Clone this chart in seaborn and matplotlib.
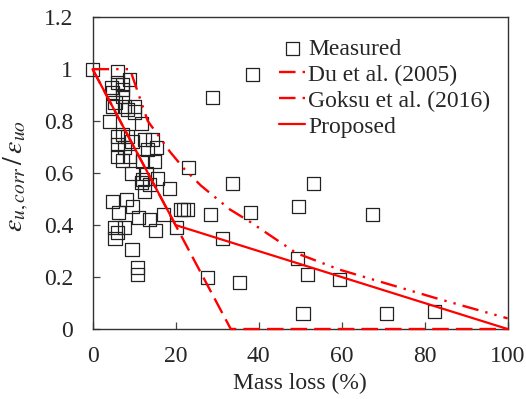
import matplotlib
matplotlib.use("Agg")
import matplotlib.pyplot as plt
import seaborn as sns
import numpy as np

# Measured data (mass loss %, strain ratio)
meas_x = [0, 6.1, 9.0, 5.9, 7.1, 4.6, 7.1, 4.9, 7.3, 5.4, 4.9, 7.8, 10.2, 8.5, 10.2,
          4.1, 11.9, 5.9, 7.3, 8.5, 9.5, 6.1, 7.8, 12.6, 14.5, 15.4, 13.3, 5.9, 9.0,
          12.1, 15.0, 9.5, 13.0, 12.1, 13.8, 11.8, 12.6, 18.6, 23.2, 15.7, 7.1,
          4.9, 8.2, 6.3, 9.7, 11.0, 13.8, 17.0, 15.2, 5.4, 7.8, 6.1, 5.4, 9.5, 10.9,
          10.9, 20.3, 21.2, 22.0, 22.8, 28.8, 38.5, 33.8, 53.3, 28.5, 38.0, 49.7,
          31.4, 49.4, 51.7, 27.6, 35.3, 50.7, 59.6, 67.5, 70.8, 82.5]
meas_y = [1.0, 0.99, 0.96, 0.95, 0.94, 0.93, 0.92, 0.91, 0.895, 0.87, 0.855, 0.855, 0.855,
          0.845, 0.835, 0.80, 0.79, 0.74, 0.75, 0.74, 0.72, 0.71, 0.70, 0.73, 0.73, 0.70,
          0.69, 0.665, 0.665, 0.645, 0.645, 0.60, 0.60, 0.575, 0.555, 0.565, 0.53, 0.54,
          0.62, 0.58, 0.65,
          0.49, 0.50, 0.45, 0.47, 0.43, 0.42, 0.44, 0.38, 0.39, 0.39, 0.37, 0.35, 0.305,
          0.235, 0.21, 0.39, 0.46, 0.46, 0.46, 0.89, 0.98, 0.56, 0.56, 0.44, 0.45, 0.47,
          0.35, 0.27, 0.21, 0.20, 0.18, 0.058, 0.19, 0.44, 0.058, 0.067]

# Model curves
du_x = [0, 33.3, 100]
du_y = [1.0, 0.0, 0.0]
goksu_x = [0, 9, 13.3, 16.2, 18.6, 22.2, 26.1, 33.1, 37.8, 49.1, 59.6, 82.9, 100]
goksu_y = [1.0, 1.0, 0.80, 0.737, 0.683, 0.614, 0.552, 0.46, 0.414, 0.292, 0.228, 0.118, 0.041]
prop_x = [0, 20, 100]
prop_y = [1.0, 0.4, 0.0]

x_ticks = [0, 20, 40, 60, 80, 100]
y_ticks = [0, 0.2, 0.4, 0.6, 0.8, 1.0, 1.2]
y_ticklabels = ["0", "0.2", "0.4", "0.6", "0.8", "1", "1.2"]

sns.set_style("white")
plt.rcParams["font.family"] = ["Liberation Serif", "DejaVu Serif"]
plt.rcParams["mathtext.fontset"] = "stix"

fig = plt.figure(figsize=(5.26, 3.99), dpi=100)
ax = fig.add_axes([0.176, 0.1754, 0.789, 0.7816])

sns.scatterplot(x=meas_x, y=meas_y, ax=ax, marker="s", s=88, facecolor="none",
                edgecolor="#222222", linewidth=0.9, label="Measured", zorder=2, clip_on=False)
sns.lineplot(x=du_x, y=du_y, ax=ax, color="red", linewidth=1.7, sort=False, estimator=None,
             linestyle=(0, (7, 3)), label="Du et al. (2005)", zorder=3, clip_on=False)
sns.lineplot(x=goksu_x, y=goksu_y, ax=ax, color="red", linewidth=1.7, sort=False, estimator=None,
             linestyle=(0, (7, 3, 1, 3, 1, 3)), label="Goksu et al. (2016)", zorder=3, clip_on=False)
sns.lineplot(x=prop_x, y=prop_y, ax=ax, color="red", linewidth=1.6, sort=False, estimator=None,
             label="Proposed", zorder=3, clip_on=False)

ax.set_xlim(0, 100)
ax.set_ylim(0, 1.2)
ax.set_xticks(x_ticks)
ax.set_yticks(y_ticks)
ax.set_yticklabels(y_ticklabels)
ax.tick_params(axis="both", direction="in", length=5, width=0.9, labelsize=17,
               left=True, bottom=True, top=False, right=False, color="#444444")
ax.tick_params(axis="x", pad=12)
ax.tick_params(axis="y", pad=14)
for sp in ax.spines.values():
    sp.set_color("#333333")
    sp.set_linewidth(1.0)

ax.set_xlabel("Mass loss (%)", fontsize=17)
ax.xaxis.set_label_coords(0.5, -0.14)
ax.set_ylabel(r"$\varepsilon_{u,corr}\,/\,\varepsilon_{uo}$", fontsize=20)
ax.yaxis.set_label_coords(-0.148, 0.49)

leg = ax.legend(loc="upper left", bbox_to_anchor=(0.45, 0.933), frameon=False, fontsize=17,
                handlelength=1.1, handletextpad=0.12, labelspacing=0.19, borderaxespad=0.0,
                borderpad=0.0)

fig.savefig("out.png", dpi=100)
